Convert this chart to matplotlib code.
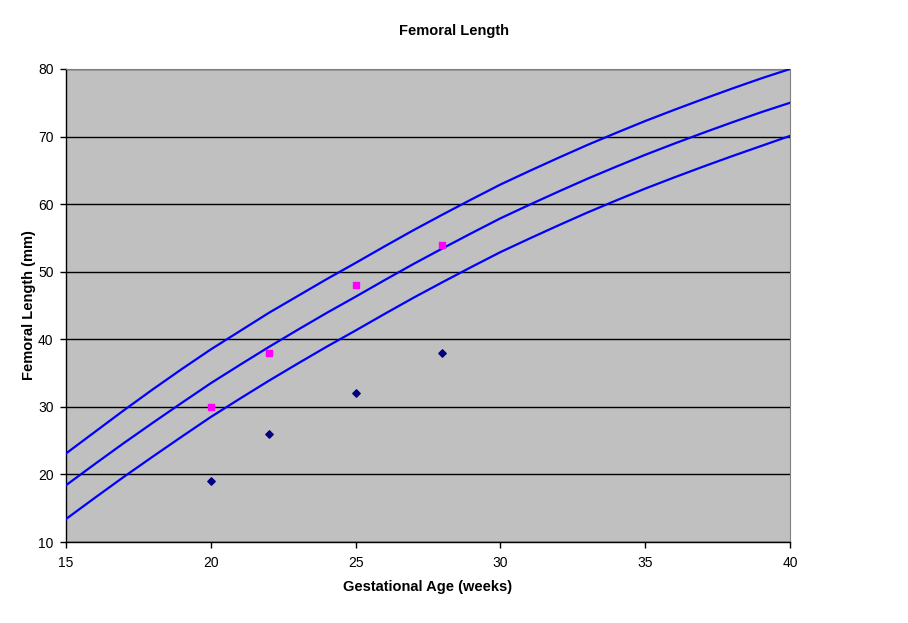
import matplotlib.pyplot as plt

# === DATA ===
weeks = list(range(15, 41))
upper = [23.1, 26.3, 29.5, 32.6, 35.6, 38.5, 41.2, 43.9, 46.4, 48.9, 51.3,
         53.75, 56.15, 58.45, 60.7, 62.9, 64.9, 66.85, 68.75, 70.55, 72.3,
         73.95, 75.55, 77.1, 78.6, 80.0]
middle = [18.4, 21.55, 24.65, 27.65, 30.6, 33.5, 36.2, 38.85, 41.4, 43.9, 46.3,
          48.75, 51.15, 53.45, 55.7, 57.9, 59.9, 61.85, 63.75, 65.55, 67.3,
          68.95, 70.55, 72.1, 73.6, 75.0]
lower = [13.4, 16.55, 19.65, 22.65, 25.6, 28.5, 31.2, 33.85, 36.4, 38.9, 41.3,
         43.75, 46.15, 48.45, 50.7, 52.9, 54.9, 56.85, 58.75, 60.55, 62.3,
         63.95, 65.55, 67.1, 68.6, 70.1]

obs_weeks = [20, 22, 25, 28]
pink_vals = [30, 38, 48, 54]
navy_vals = [19, 26, 32, 38]

# === PLOT ===
plt.rcParams['font.family'] = ['Liberation Sans', 'DejaVu Sans']
fig = plt.figure(figsize=(9.08, 6.23), dpi=100)
ax = fig.add_axes([66 / 908, 1 - 542 / 623, 724 / 908, 473 / 623])
ax.set_facecolor('#C0C0C0')

ax.grid(True, axis='y', color='black', linewidth=1)
ax.set_axisbelow(True)

for s in (upper, middle, lower):
    ax.plot(weeks, s, color='#0000FF', linewidth=1.6, zorder=3)

ax.scatter(obs_weeks, pink_vals, marker='s', s=22, color='#FF00FF', zorder=4)
ax.scatter(obs_weeks, navy_vals, marker='D', s=14, color='#000080', zorder=4)

ax.set_xlim(15, 40)
ax.set_ylim(10, 80)
ax.set_xticks(range(15, 41, 5))
ax.set_yticks(range(10, 81, 10))
ax.tick_params(direction='out', length=4, width=1, labelsize=10)
ax.tick_params(axis='x', pad=6)
ax.tick_params(axis='y', pad=5)

for side in ('top', 'right'):
    ax.spines[side].set_color('#808080')
for side in ('left', 'bottom'):
    ax.spines[side].set_color('black')
    ax.spines[side].set_linewidth(1)

fig.text(0.5, 1 - 31 / 623, "Femoral Length", ha='center', va='center',
         fontsize=10.5, fontweight='bold')
ax.set_xlabel("Gestational Age (weeks)", fontsize=10.5, fontweight='bold', labelpad=7)
ax.set_ylabel("Femoral Length (mm)", fontsize=10.5, fontweight='bold', labelpad=1)

fig.savefig('out.png', dpi=100)
